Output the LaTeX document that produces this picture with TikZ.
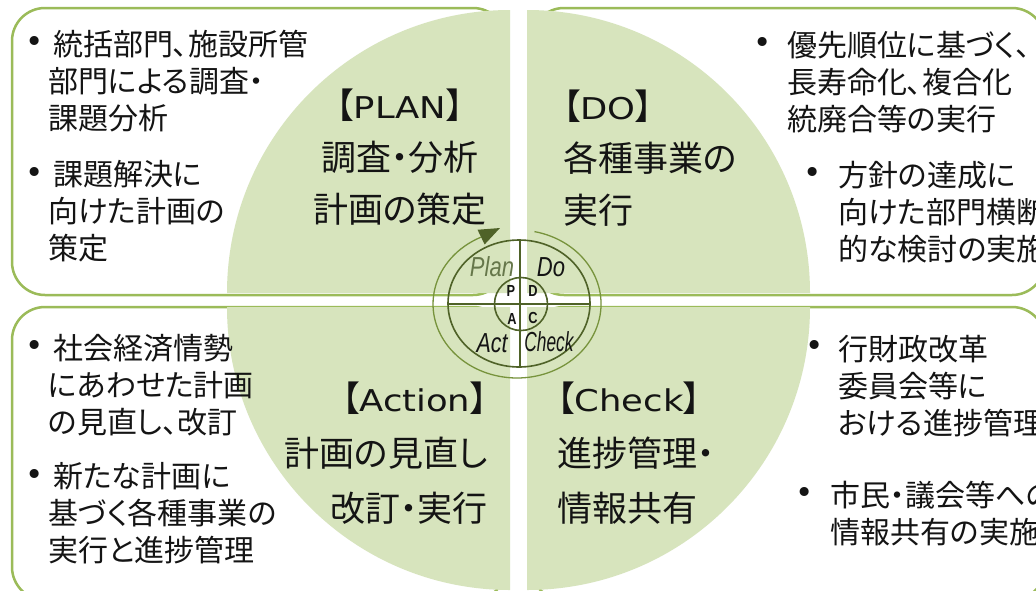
\documentclass[tikz,border=0pt]{standalone}
\usepackage{fontspec}
\setmainfont{Noto Sans CJK JP}[RawFeature=+palt]
\newfontfamily\latinfont{DejaVu Sans}
\newfontfamily\emfont{Liberation Sans}
\usetikzlibrary{arrows.meta}
\definecolor{boxline}{HTML}{9BBB59}
\definecolor{disc}{HTML}{D7E4BD}
\definecolor{ringc}{HTML}{77933C}
\definecolor{darkol}{HTML}{4F6228}
\definecolor{plangray}{HTML}{66774A}
\definecolor{inkc}{HTML}{141414}
\newcommand\lword[1]{{\latinfont\fontsize{30}{30}\selectfont\scalebox{1.18}[1]{#1}}}
\begin{document}
\begin{tikzpicture}[x=1pt,y=-1pt,
  boxst/.style={draw=boxline,line width=2.5pt,fill=white,rounded corners=33pt},
  discst/.style={fill=disc},
  btext/.style={inner sep=0pt,align=left,anchor=west,text=inkc,font=\fontsize{30}{37}\selectfont},
  bdot/.style={inner sep=0pt,text=inkc,font=\latinfont\fontsize{31}{31}\selectfont},
  mainst/.style={inner sep=0pt,text=inkc,font=\fontsize{35}{52}\selectfont},
  mainlow/.style={inner sep=0pt,text=inkc,font=\fontsize{35}{55}\selectfont},
  emst/.style={inner sep=0pt,text=inkc,font=\emfont\itshape\fontsize{27.5}{27.5}\selectfont},
  smst/.style={inner sep=0pt,text=inkc,font=\emfont\bfseries\fontsize{16}{16}\selectfont},
  linest/.style={draw=darkol,line width=1.6pt},
  crossst/.style={draw=darkol,line width=2.4pt},
  ringst/.style={draw=ringc,line width=1.3pt}
]
\clip (0,0) rectangle (1036,590);
\fill[white] (0,0) rectangle (1036,590);

% boxes
\draw[boxst] (506,8) -- (12,8) -- (12,295) -- (506,295) -- cycle;
\draw[boxst] (531,8) -- (1045,8) -- (1045,295) -- (531,295) -- cycle;
\draw[boxst] (506,307) -- (12,307) -- (12,600) -- (506,600) -- cycle;
\draw[boxst] (531,307) -- (1045,307) -- (1045,600) -- (531,600) -- cycle;

% quarter discs
\fill[discst] (510,293) -- (227,293) arc[start angle=180,end angle=270,radius=283] -- cycle;
\fill[discst] (527,293) -- (527,10) arc[start angle=270,end angle=360,radius=283] -- cycle;
\fill[discst] (527,307) -- (810,307) arc[start angle=0,end angle=90,radius=283] -- cycle;
\fill[discst] (510,307) -- (510,590) arc[start angle=90,end angle=180,radius=283] -- cycle;

% PDCA emblem
\coordinate (ringtip) at (500,228);
\draw[ringst,-{Triangle[length=21pt,width=16pt,color=darkol]}]
  (534.5,231.6) arc[start angle=282,end angle=604.6,x radius=84,y radius=74] -- (ringtip);
\draw[linest] (519,303.5) ellipse [x radius=71,y radius=63.5];
\draw[crossst] (520,240) -- (520,367);
\draw[crossst] (447,304) -- (591,304);
\draw[linest] (521,304) circle [radius=26.5];
\node[emst,text=plangray] (plan) at (492,267) {\scalebox{0.8}[1]{Plan}};
\node[emst] (do) at (551,267) {\scalebox{0.8}[1]{Do}};
\node[emst] (act) at (492,343) {\scalebox{0.78}[1]{Act}};
\node[emst] (check) at (549,342) {\scalebox{0.63}[1]{Check}};
\node[smst] (sp) at (511,291) {\scalebox{0.8}[1]{P}};
\node[smst] (sd) at (533,291) {\scalebox{0.8}[1]{D}};
\node[smst] (sa) at (512,319) {\scalebox{0.8}[1]{A}};
\node[smst] (sc) at (533,318) {\scalebox{0.8}[1]{C}};

% main labels
\node[mainst,align=center] (planlbl) at (400,157) {【\lword{PLAN}】\\調査・分析\\計画の策定};
\node[mainst,align=left,anchor=west] (dolbl) at (563,158) {【\lword{DO}】\\各種事業の\\実行};
\node[mainlow,align=right,anchor=east] (actlbl) at (488,453) {【\lword{Action}】\\計画の見直し\\改訂・実行};
\node[mainlow,align=left,anchor=west] (checklbl) at (557,453) {【\lword{Check}】\\進捗管理・\\情報共有};

% bullets
\node[bdot] (d1) at (35,44) {•};
\node[btext] (t1) at (48,81) {\hspace*{5pt}統括部門、施設所管\\部門による調査・\\課題分析};
\node[bdot] (d2) at (35,175) {•};
\node[btext] (t2) at (48,211) {\hspace*{5pt}課題解決に\\向けた計画の\\策定};
\node[bdot] (d3) at (763,45) {•};
\node[btext] (t3) at (787,82) {優先順位に基づく、\\長寿命化、複合化\\統廃合等の実行};
\node[bdot] (d4) at (813,175) {•};
\node[btext] (t4) at (838,212) {方針の達成に\\向けた部門横断\\的な検討の実施};
\node[bdot] (d5) at (35,348) {•};
\node[btext] (t5) at (48,385) {\hspace*{5pt}社会経済情勢\\にあわせた計画\\の見直し、改訂};
\node[bdot] (d6) at (35,477) {•};
\node[btext] (t6) at (48,513) {\hspace*{5pt}新たな計画に\\基づく各種事業の\\実行と進捗管理};
\node[bdot] (d7) at (815,348) {•};
\node[btext] (t7) at (838,386) {行財政改革\\委員会等に\\おける進捗管理};
\node[bdot] (d8) at (805,495) {•};
\node[btext] (t8) at (830,513.5) {市民・議会等への\\情報共有の実施};
\end{tikzpicture}
\end{document}
